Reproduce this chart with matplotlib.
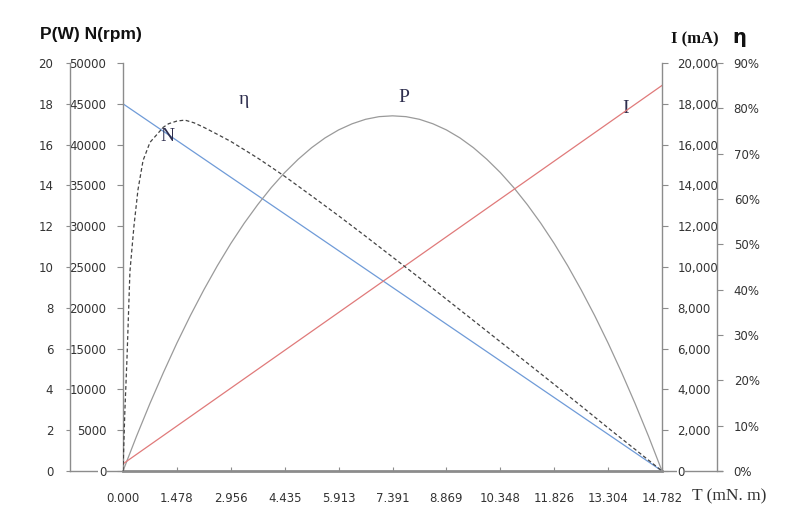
import matplotlib.pyplot as plt
from matplotlib.lines import Line2D
from matplotlib.ticker import FuncFormatter

# torque axis ticks (mN.m)
t_ticks = [0.000, 1.478, 2.956, 4.435, 5.913, 7.391, 8.869, 10.348, 11.826, 13.304, 14.782]
t_labels = ["0.000", "1.478", "2.956", "4.435", "5.913", "7.391", "8.869",
            "10.348", "11.826", "13.304", "14.782"]

# speed N (rpm) and current I (mA) at the tick torques
n_rpm = [45000, 40500, 36000, 31500, 27000, 22500, 18000, 13500, 9000, 4500, 0]
i_ma = [350, 2205, 4060, 5915, 7770, 9625, 11480, 13335, 15190, 17045, 18900]

# output power P (W)
t_p = [0, 0.370, 0.739, 1.109, 1.478, 1.848, 2.217, 2.587, 2.956, 3.326, 3.696,
       4.065, 4.435, 4.804, 5.174, 5.543, 5.913, 6.283, 6.652, 7.022, 7.391,
       7.761, 8.130, 8.500, 8.869, 9.239, 9.609, 9.978, 10.348, 10.717, 11.087,
       11.456, 11.826, 12.196, 12.565, 12.935, 13.304, 13.674, 14.043, 14.413, 14.782]
p_w = [0, 1.70, 3.31, 4.83, 6.27, 7.62, 8.88, 10.06, 11.15, 12.15, 13.06,
       13.89, 14.63, 15.28, 15.85, 16.33, 16.72, 17.02, 17.24, 17.37, 17.41,
       17.37, 17.24, 17.02, 16.72, 16.33, 15.85, 15.28, 14.63, 13.89, 13.06,
       12.15, 11.15, 10.06, 8.88, 7.62, 6.27, 4.83, 3.31, 1.70, 0]

# efficiency (%)
t_eff = [0, 0.05, 0.11, 0.19, 0.30, 0.41, 0.55, 0.74, 0.96, 1.10, 1.25, 1.48,
         1.70, 1.95, 2.22, 2.58, 2.956, 3.32, 3.70, 4.07, 4.435, 5.17, 5.913,
         6.65, 7.391, 8.13, 8.869, 9.61, 10.348, 11.09, 11.826, 12.57, 13.304,
         14.04, 14.782]
eff_pct = [0, 13, 25, 44, 54, 62, 68.5, 72.5, 74.5, 75.8, 76.6, 77.2,
           77.4, 76.8, 75.8, 74.3, 72.7, 70.9, 69.0, 67.0, 65.0, 60.7, 56.3,
           51.8, 47.2, 42.6, 37.9, 33.2, 28.5, 23.8, 19.1, 14.3, 9.5,
           4.8, 0]

W, H = 808, 517
spine_c = "#8c8c8c"
txt_c = "#333333"

fig = plt.figure(figsize=(W / 100, H / 100), dpi=100)
ax = fig.add_axes([123 / W, 46 / H, 539 / W, 408 / H])
axP = ax.twinx()
axI = ax.twinx()
axE = ax.twinx()

for a in (ax, axP, axI, axE):
    for s in a.spines.values():
        s.set_visible(False)
        s.set_color(spine_c)
        s.set_linewidth(1.0)
    a.tick_params(colors=spine_c, labelcolor=txt_c, labelsize=8.5, length=4, width=0.8)

# N axis (plot left)
ax.spines["left"].set_visible(True)
ax.spines["bottom"].set_visible(True)
ax.spines["bottom"].set_linewidth(2.0)
ax.set_xlim(0, 14.782)
ax.set_ylim(0, 50000)
ax.set_yticks(range(0, 50001, 5000))
ax.tick_params(axis="y", pad=8, length=4)
ax.set_xticks(t_ticks)
ax.set_xticklabels(t_labels)
ax.tick_params(axis="x", direction="in", length=3, pad=15)

# P axis (far left)
axP.yaxis.set_ticks_position("left")
axP.spines["left"].set_visible(True)
axP.spines["left"].set_position(("outward", 38.2))
axP.set_ylim(0, 20)
axP.set_yticks(range(0, 21, 2))
axP.tick_params(axis="y", pad=9, length=3)

# I axis (plot right)
axI.spines["right"].set_visible(True)
axI.set_ylim(0, 20000)
axI.set_yticks(range(0, 20001, 2000))
axI.yaxis.set_major_formatter(FuncFormatter(lambda v, _: f"{int(v):,}"))
axI.tick_params(axis="y", pad=7, length=4)

# efficiency axis (far right)
axE.spines["right"].set_visible(True)
axE.spines["right"].set_position(("outward", 39.6))
axE.set_ylim(0, 90)
axE.set_yticks(range(0, 91, 10))
axE.yaxis.set_major_formatter(FuncFormatter(lambda v, _: f"{int(v)}%"))
axE.tick_params(axis="y", pad=8, length=4)

for lab in ax.get_yticklabels() + axI.get_yticklabels():
    lab.set_bbox(dict(facecolor="white", edgecolor="none", pad=0.5))

# baseline extensions to the outer axes
for x0, x1 in ((-53 / 539, 0), (1, 599 / 539)):
    ax.add_line(Line2D([x0, x1], [0, 0], transform=ax.transAxes, color=spine_c,
                       lw=1.0, clip_on=False, zorder=0.5))

# curves
ax.plot(t_ticks, n_rpm, color="#6f9bd8", lw=0.9)
axI.plot(t_ticks, i_ma, color="#e07a7a", lw=0.9)
axP.plot(t_p, p_w, color="#9a9a9a", lw=0.9)
axE.plot(t_eff, eff_pct, color="#444444", lw=0.9, ls=(0, (3, 2)))

lab_kw = dict(family="Liberation Serif", fontsize=14, color="#2e2e4e",
              ha="center", va="center")
ax.text(1.220, 40993, "N", **lab_kw)
ax.text(3.318, 45466, "η", **lab_kw)
ax.text(7.706, 45833, "P", **lab_kw)
ax.text(13.795, 44363, "I", **lab_kw)

# axis titles
fig.text(40 / W, 1 - 39 / H, "P(W) N(rpm)", family="Liberation Sans",
         fontweight="bold", fontsize=12.5, color="#111111", va="baseline")
fig.text(671 / W, 1 - 43 / H, "I (mA)", family="Liberation Serif",
         fontweight="bold", fontsize=12, color="#111111", va="baseline")
fig.text(732 / W, 1 - 43 / H, "η", family="DejaVu Sans",
         fontweight="bold", fontsize=14, color="#111111", va="baseline")
fig.text(692 / W, 1 - 500 / H, "T (mN. m)", family="Liberation Serif",
         fontsize=12.5, color="#333333", va="baseline")

fig.savefig("out.png", dpi=100)
